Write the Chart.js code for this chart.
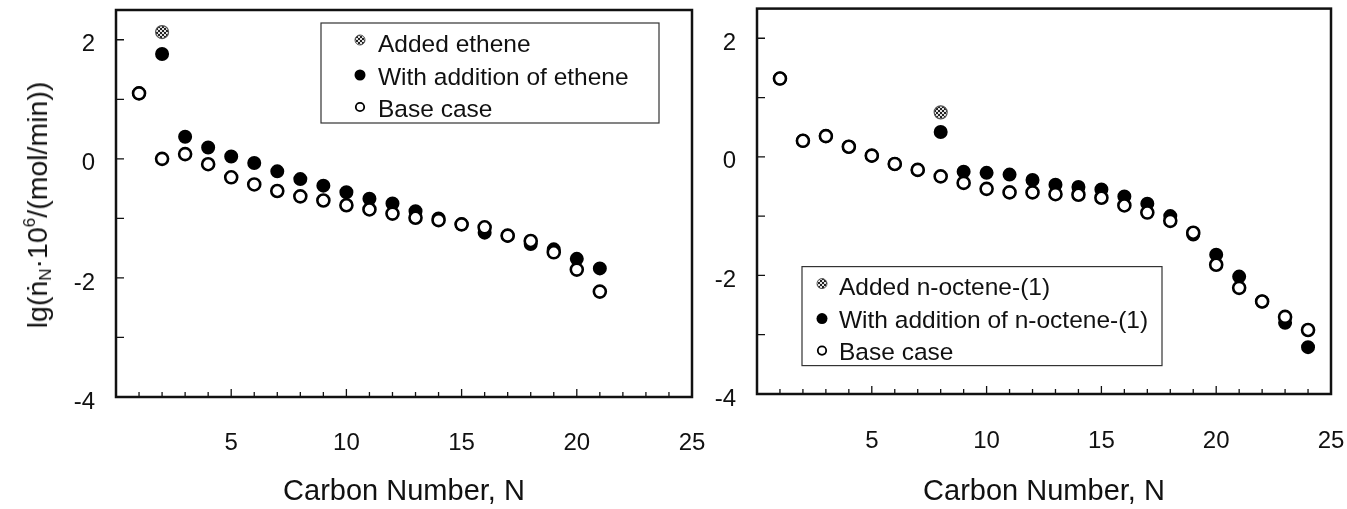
<!DOCTYPE html>
<html>
<head>
<meta charset="utf-8">
<script src="https://cdn.jsdelivr.net/npm/chart.js"></script>
<style>
  body { margin: 0; background: #fff; width: 1347px; height: 509px; position: relative; overflow: hidden; }
  .box { position: absolute; top: 0; height: 509px; }
  #ytitle {
    position: absolute; left: 38px; top: 205px; white-space: nowrap;
    font-family: "Liberation Sans", "DejaVu Sans", sans-serif; font-size: 28.5px; color: #111;
    transform: translate(-50%, -50%) rotate(-90deg);
  }
  #ytitle sub { font-size: 17px; vertical-align: -4px; }
  #ytitle sup { font-size: 17px; vertical-align: 12px; }
</style>
</head>
<body>
<div class="box" style="left:0;width:720px"><canvas id="leftChart" width="720" height="509"></canvas></div>
<div class="box" style="left:700px;width:647px"><canvas id="rightChart" width="647" height="509"></canvas></div>
<div id="ytitle">lg(ṅ<sub>N</sub>·10<sup>6</sup>/(mol/min))</div>
<script>
// ethene experiment (left panel)
const carbonLeft = [1, 2, 3, 4, 5, 6, 7, 8, 9, 10, 11, 12, 13, 14, 15, 16, 17, 18, 19, 20, 21];
const baseEthene = [1.10, 0.00, 0.08, -0.09, -0.31, -0.43, -0.54, -0.63, -0.70, -0.78, -0.85, -0.92, -0.99, -1.03, -1.10, -1.15, -1.29, -1.38, -1.57, -1.86, -2.23];
const withEthene = [1.10, 1.76, 0.37, 0.19, 0.04, -0.07, -0.21, -0.34, -0.45, -0.56, -0.67, -0.75, -0.88, -1.00, -1.10, -1.24, -1.29, -1.43, -1.52, -1.68, -1.84];
const addedEtheneN = [2];
const addedEthene = [2.13];
const legendLeft = ['Added ethene', 'With addition of ethene', 'Base case'];

// n-octene-(1) experiment (right panel)
const carbonRight = [1, 2, 3, 4, 5, 6, 7, 8, 9, 10, 11, 12, 13, 14, 15, 16, 17, 18, 19, 20, 21, 22, 23, 24];
const baseOctene = [1.32, 0.27, 0.35, 0.17, 0.02, -0.12, -0.22, -0.33, -0.44, -0.54, -0.60, -0.60, -0.63, -0.64, -0.69, -0.82, -0.94, -1.08, -1.28, -1.82, -2.21, -2.44, -2.70, -2.92];
const withOctene = [1.32, 0.27, 0.35, 0.17, 0.02, -0.12, -0.22, 0.42, -0.25, -0.27, -0.30, -0.39, -0.47, -0.51, -0.55, -0.67, -0.79, -1.00, -1.31, -1.65, -2.02, -2.44, -2.80, -3.21];
const addedOcteneN = [8];
const addedOctene = [0.75];
const legendRight = ['Added n-octene-(1)', 'With addition of n-octene-(1)', 'Base case'];

// axes
const xMin = 0, xMax = 25;
const yMin = -4, yMax = 2.5;
const xLabelEvery = 5;
const yLabelEvery = 2;

const FONT = '"Liberation Sans", Arial, sans-serif';

function makePattern() {
    const c = document.createElement('canvas');
    c.width = 4; c.height = 4;
    const g = c.getContext('2d');
    g.fillStyle = '#e2e2e2';
    g.fillRect(0, 0, 4, 4);
    g.fillStyle = '#222';
    g.fillRect(0, 0, 2, 2);
    g.fillRect(2, 2, 2, 2);
    return g.createPattern(c, 'repeat');
}
const dotted = makePattern();

function pts(xs, ys) {
    return xs.map((x, i) => ({ x: x, y: ys[i] }));
}

// frame + inward ticks + boxed legend
const framePlugin = {
    id: 'frame',
    beforeDatasetsDraw(chart) {
        const { ctx, chartArea: a, scales } = chart;
        ctx.save();
        ctx.strokeStyle = '#111';
        ctx.lineWidth = 1.3;
        ctx.beginPath();
        scales.y.ticks.forEach(t => {
            if (!Number.isInteger(t.value)) return;
            const py = scales.y.getPixelForValue(t.value);
            ctx.moveTo(a.left, py);
            ctx.lineTo(a.left + 8, py);
        });
        scales.x.ticks.forEach(t => {
            if (!Number.isInteger(t.value) || t.value <= xMin || t.value >= xMax) return;
            const px = scales.x.getPixelForValue(t.value);
            ctx.moveTo(px, a.bottom);
            ctx.lineTo(px, a.bottom - (t.value % 5 === 0 ? 8 : 5));
        });
        ctx.stroke();
        ctx.lineWidth = 2.5;
        ctx.strokeRect(a.left, a.top, a.right - a.left, a.bottom - a.top);
        ctx.restore();
    },
    afterDatasetsDraw(chart, args, opts) {
        if (!opts.labels) return;
        const { ctx, chartArea: a } = chart;
        const bx = a.left + opts.dx, by = a.top + opts.dy;
        ctx.save();
        ctx.strokeStyle = '#333';
        ctx.lineWidth = 1.2;
        ctx.strokeRect(bx, by, opts.w, opts.h);
        const rowText = [22, 55, 87];
        const rowMark = [17, 52, 84];
        opts.labels.forEach((lab, i) => {
            const mx = bx + opts.markX, my = by + rowMark[i];
            ctx.beginPath();
            if (i === 0) {
                ctx.arc(mx, my, 5, 0, Math.PI * 2);
                ctx.fillStyle = dotted;
                ctx.fill();
                ctx.lineWidth = 1;
                ctx.strokeStyle = '#555';
                ctx.stroke();
            } else if (i === 1) {
                ctx.arc(mx, my, 5.5, 0, Math.PI * 2);
                ctx.fillStyle = '#000';
                ctx.fill();
            } else {
                ctx.arc(mx, my, 4.2, 0, Math.PI * 2);
                ctx.fillStyle = '#fff';
                ctx.fill();
                ctx.lineWidth = 1.8;
                ctx.strokeStyle = '#000';
                ctx.stroke();
            }
            ctx.fillStyle = '#111';
            ctx.font = '24.5px ' + FONT;
            ctx.textBaseline = 'middle';
            ctx.textAlign = 'left';
            ctx.fillText(lab, bx + opts.textX, by + rowText[i]);
        });
        ctx.restore();
    }
};

function noPad(s) {
    s.paddingTop = 0; s.paddingBottom = 0;
    s.paddingLeft = 0; s.paddingRight = 0;
}

function makeChart(id, xs, base, withAdd, addN, added, legendLabels, geo) {
    const ctx = document.getElementById(id).getContext('2d');
    return new Chart(ctx, {
        type: 'scatter',
        data: {
            datasets: [{
                label: legendLabels[2],
                data: pts(xs, base),
                backgroundColor: '#fff',
                borderColor: '#000',
                borderWidth: 2.6,
                pointRadius: 6
            }, {
                label: legendLabels[1],
                data: pts(xs, withAdd),
                backgroundColor: '#000',
                borderColor: '#000',
                borderWidth: 2,
                pointRadius: 6
            }, {
                label: legendLabels[0],
                data: pts(addN, added),
                backgroundColor: dotted,
                borderColor: '#555',
                borderWidth: 1.2,
                pointRadius: 6.5
            }]
        },
        options: {
            responsive: false,
            animation: false,
            layout: { padding: { left: 0, top: geo.top, right: geo.right, bottom: 0 } },
            plugins: {
                legend: { display: false },
                tooltip: { enabled: false },
                frame: geo.legend
            },
            scales: {
                x: {
                    type: 'linear',
                    min: xMin, max: xMax,
                    grid: { display: false, drawTicks: false, tickLength: 0 },
                    border: { display: false },
                    ticks: {
                        stepSize: 1,
                        autoSkip: false,
                        maxRotation: 0,
                        padding: geo.xPad,
                        color: '#111',
                        font: { family: FONT, size: 24 },
                        callback: v => (v > 0 && v % xLabelEvery === 0) ? String(v) : ''
                    },
                    title: {
                        display: true,
                        text: 'Carbon Number, N',
                        color: '#111',
                        font: { family: FONT, size: 29 },
                        padding: { top: 0, bottom: 0 }
                    },
                    afterFit: s => { s.height = geo.xh; noPad(s); }
                },
                y: {
                    type: 'linear',
                    min: yMin, max: yMax,
                    grid: { display: false, drawTicks: false, tickLength: 0 },
                    border: { display: false },
                    ticks: {
                        stepSize: 1,
                        includeBounds: false,
                        autoSkip: false,
                        padding: 21,
                        labelOffset: 5,
                        color: '#111',
                        font: { family: FONT, size: 24 },
                        callback: v => (Number.isInteger(v) && v % yLabelEvery === 0) ? String(v) : ''
                    },
                    afterFit: s => { s.width = geo.yw; noPad(s); }
                }
            }
        },
        plugins: [framePlugin]
    });
}

makeChart('leftChart', carbonLeft, baseEthene, withEthene, addedEtheneN, addedEthene, legendLeft, {
    top: 10, right: 28, xh: 112, yw: 116, xPad: 32,
    legend: { labels: legendLeft, dx: 205, dy: 13, w: 338, h: 100, markX: 39, textX: 57 }
});

makeChart('rightChart', carbonRight, baseOctene, withOctene, addedOcteneN, addedOctene, legendRight, {
    top: 6, right: 16, xh: 115, yw: 57, xPad: 33,
    legend: { labels: legendRight, dx: 45, dy: 258, w: 360, h: 99, markX: 20, textX: 37 }
});
</script>
</body>
</html>
